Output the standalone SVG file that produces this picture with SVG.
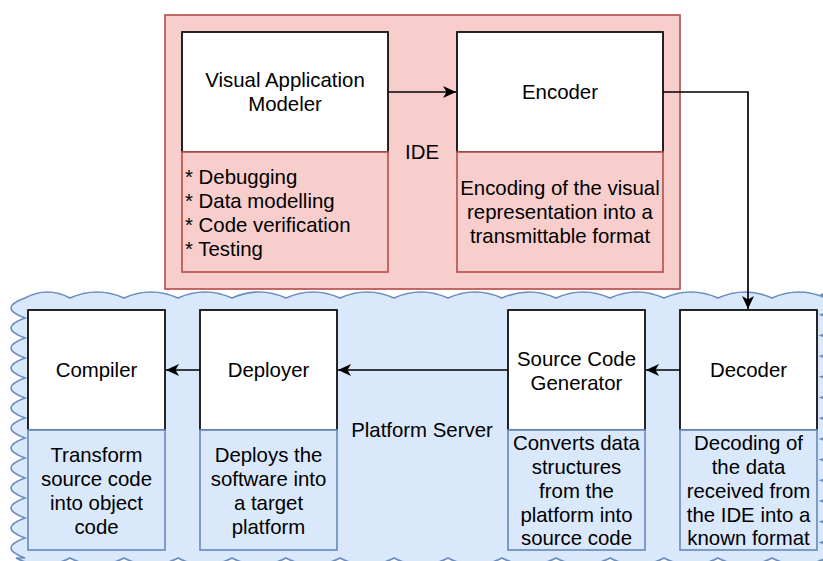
<svg xmlns="http://www.w3.org/2000/svg" width="823" height="561" viewBox="0 0 823 561">
<style>
.t{font-family:"Liberation Sans",Arial,Helvetica,sans-serif;font-size:20.4px;fill:#000;text-anchor:middle}
.l{text-anchor:start}
.w{fill:#fff;stroke:#000;stroke-width:1.7}
.r{fill:#f8cecc;stroke:#b85450;stroke-width:1.7}
.b{fill:#dae8fc;stroke:#6c8ebf;stroke-width:1.7}
.c{fill:none;stroke:#000;stroke-width:1.7}
</style>
<defs>
<marker id="ah" markerUnits="userSpaceOnUse" markerWidth="14" markerHeight="14" viewBox="0 0 14 14" refX="13" refY="7" orient="auto">
<path d="M0,1 L13,7 L0,13 L3.5,7 Z" fill="#000"/>
</marker>
</defs>

<g id="platform">
<path class="b" d="M25,298 Q47.5,286 70,298 Q97,286 124,298 Q151,286 178,298 Q205,286 232,298 Q259,286 286,298 Q313,286 340,298 Q367,286 394,298 Q421,286 448,298 Q475,286 502,298 Q529,286 556,298 Q583,286 610,298 Q637,286 664,298 Q691,286 718,298 Q745,286 772,298 Q799,286 826,298 L821,294 Q850,304.35 821,314.7 Q850,325.05 821,335.4 Q850,345.75 821,356.1 Q850,366.45 821,376.8 Q850,387.15 821,397.5 Q850,407.85 821,418.2 Q850,428.55 821,438.9 Q850,449.25 821,459.6 Q850,469.95 821,480.3 Q850,490.65 821,501 Q850,511.35 821,521.7 Q850,532.05 821,542.4 Q850,552.75 821,563.1 L826,558 Q799,572 772,558 Q745,572 718,558 Q691,572 664,558 Q637,572 610,558 Q583,572 556,558 Q529,572 502,558 Q475,572 448,558 Q421,572 394,558 Q367,572 340,558 Q313,572 286,558 Q259,572 232,558 Q205,572 178,558 Q151,572 124,558 Q97,572 70,558 Q43,572 16,558 L25,558 Q-3,548 25,538 Q-3,528 25,518 Q-3,508 25,498 Q-3,488 25,478 Q-3,468 25,458 Q-3,448 25,438 Q-3,428 25,418 Q-3,408 25,398 Q-3,388 25,378 Q-3,368 25,358 Q-3,348 25,338 Q-3,328 25,318 Q-3,308 25,298 Z"/>
<text class="t" x="422" y="437">Platform Server</text>
</g>

<g id="ide">
<rect class="r" x="165" y="15" width="515" height="274"/>
<text class="t" x="422" y="159">IDE</text>
</g>

<g id="vam">
<rect class="w" x="182" y="32" width="206" height="120"/>
<text class="t" x="285" y="87">Visual Application</text>
<text class="t" x="285" y="111">Modeler</text>
<rect class="r" x="182" y="152" width="206" height="120"/>
<text class="t l" x="185" y="183.5">* Debugging</text>
<text class="t l" x="185" y="207.5">* Data modelling</text>
<text class="t l" x="185" y="231.5">* Code verification</text>
<text class="t l" x="185" y="255.5">* Testing</text>
</g>

<g id="encoder">
<rect class="w" x="457" y="32" width="206" height="120"/>
<text class="t" x="560" y="99">Encoder</text>
<rect class="r" x="457" y="152" width="206" height="120"/>
<text class="t" x="560" y="195">Encoding of the visual</text>
<text class="t" x="560" y="219">representation into a</text>
<text class="t" x="560" y="243">transmittable format</text>
</g>

<g id="compiler">
<rect class="w" x="28" y="310" width="137" height="120"/>
<text class="t" x="96.5" y="377">Compiler</text>
<rect class="b" x="28" y="430" width="137" height="120"/>
<text class="t" x="96.5" y="462">Transform</text>
<text class="t" x="96.5" y="486">source code</text>
<text class="t" x="96.5" y="510">into object</text>
<text class="t" x="96.5" y="534">code</text>
</g>

<g id="deployer">
<rect class="w" x="200" y="310" width="137" height="120"/>
<text class="t" x="268.5" y="377">Deployer</text>
<rect class="b" x="200" y="430" width="137" height="120"/>
<text class="t" x="268.5" y="462">Deploys the</text>
<text class="t" x="268.5" y="486">software into</text>
<text class="t" x="268.5" y="510">a target</text>
<text class="t" x="268.5" y="534">platform</text>
</g>

<g id="scg">
<rect class="w" x="508" y="310" width="137" height="120"/>
<text class="t" x="576.5" y="366">Source Code</text>
<text class="t" x="576.5" y="390">Generator</text>
<rect class="b" x="508" y="430" width="137" height="120"/>
<text class="t" x="576.5" y="450">Converts data</text>
<text class="t" x="576.5" y="474">structures</text>
<text class="t" x="576.5" y="498">from the</text>
<text class="t" x="576.5" y="521.5">platform into</text>
<text class="t" x="576.5" y="545">source code</text>
</g>

<g id="decoder">
<rect class="w" x="680" y="310" width="137" height="120"/>
<text class="t" x="748.5" y="377">Decoder</text>
<rect class="b" x="680" y="430" width="137" height="120"/>
<text class="t" x="748.5" y="450">Decoding of</text>
<text class="t" x="748.5" y="474">the data</text>
<text class="t" x="748.5" y="498">received from</text>
<text class="t" x="748.5" y="521.5">the IDE into a</text>
<text class="t" x="748.5" y="545">known format</text>
</g>

<g id="connectors">
<path class="c" d="M388,92 L456,92" marker-end="url(#ah)"/>
<path class="c" d="M663,92 L748,92 L748,309" marker-end="url(#ah)"/>
<path class="c" d="M680,370 L646,370" marker-end="url(#ah)"/>
<path class="c" d="M508,370 L338,370" marker-end="url(#ah)"/>
<path class="c" d="M200,370 L166,370" marker-end="url(#ah)"/>
</g>
</svg>
